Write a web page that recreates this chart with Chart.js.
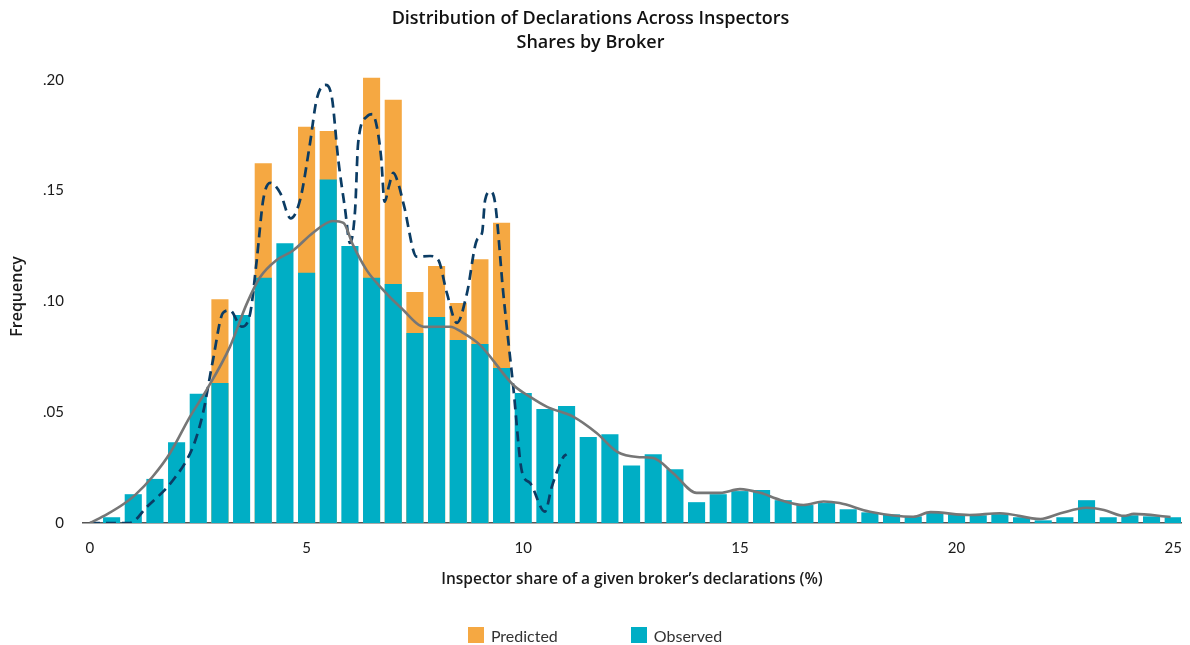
<!DOCTYPE html>
<html>
<head>
<meta charset="utf-8">
<title>Distribution of Declarations Across Inspectors</title>
<script src="https://cdn.jsdelivr.net/npm/chart.js@4.4.1/dist/chart.umd.min.js"></script>
<style>
  html, body { margin: 0; padding: 0; background: #ffffff; }
  #wrap { position: relative; width: 1190px; height: 645px; }
  #legend {
    position: absolute; left: 0; top: 625px; width: 1190px; height: 20px;
    display: flex; justify-content: center; align-items: center;
    font-family: Lato, "Open Sans", sans-serif; font-size: 16px; color: #333333;
  }
  .item { display: flex; align-items: center; }
  .item + .item { margin-left: 73px; }
  .sw { width: 16px; height: 16px; margin-right: 7px; }
</style>
</head>
<body>
<div id="wrap">
  <canvas id="chart" width="1190" height="645"></canvas>
  <div id="legend"></div>
</div>
<script>
// Histogram bins: share of a broker's declarations handled by one inspector (%)
const binCenters = [
  0.5, 1.0, 1.5, 2.0, 2.5, 3.0, 3.5, 4.0, 4.5, 5.0,
  5.5, 6.0, 6.5, 7.0, 7.5, 8.0, 8.5, 9.0, 9.5, 10.0,
  10.5, 11.0, 11.5, 12.0, 12.5, 13.0, 13.5, 14.0, 14.5, 15.0,
  15.5, 16.0, 16.5, 17.0, 17.5, 18.0, 18.5, 19.0, 19.5, 20.0,
  20.5, 21.0, 21.5, 22.0, 22.5, 23.0, 23.5, 24.0, 24.5, 25.0
];

// Observed frequency per bin
const observed = [
  0.0026, 0.0130, 0.0199, 0.0365, 0.0583, 0.0632, 0.0939, 0.1107, 0.1263, 0.1129,
  0.1550, 0.1250, 0.1107, 0.1079, 0.0857, 0.0930, 0.0826, 0.0808, 0.0700, 0.0587,
  0.0515, 0.0528, 0.0388, 0.0400, 0.0260, 0.0310, 0.0243, 0.0094, 0.0130, 0.0144,
  0.0149, 0.0103, 0.0081, 0.0090, 0.0062, 0.0048, 0.0039, 0.0030, 0.0048, 0.0040,
  0.0035, 0.0040, 0.0026, 0.0012, 0.0026, 0.0103, 0.0026, 0.0035, 0.0030, 0.0026
];

// Predicted frequency per bin (null where it sits below the observed bar)
const predicted = [
  null, null, null, null, null, 0.1010, null, 0.1624, null, 0.1788,
  0.1769, null, 0.2009, 0.1910, 0.1042, 0.1160, 0.0993, 0.1190, 0.1355, null,
  null, null, null, null, null, null, null, null, null, null,
  null, null, null, null, null, null, null, null, null, null,
  null, null, null, null, null, null, null, null, null, null
];

// Smoothed density of the predicted distribution
const predictedDensityX = [
  0, 0.5, 0.92, 1.31, 1.92, 2.38, 2.61, 2.84, 3.07, 3.23,
  3.5, 3.7, 3.85, 4.0, 4.16, 4.39, 4.63, 4.85, 5.08, 5.23,
  5.43, 5.58, 5.73, 5.89, 6.0, 6.12, 6.19, 6.39, 6.52, 6.62,
  6.72, 6.8, 6.9, 7.0, 7.12, 7.25, 7.54, 7.85, 8.04, 8.24,
  8.47, 8.7, 8.93, 9.05, 9.12, 9.24, 9.35, 9.54, 9.77, 9.97,
  10.16, 10.5, 10.66, 10.93, 11.0
];
const predictedDensityY = [
  0, 0, 0, 0.0072, 0.0194, 0.0345, 0.0497, 0.0736, 0.0948, 0.0960,
  0.0886, 0.0948, 0.1187, 0.1460, 0.1535, 0.1490, 0.1375, 0.1458, 0.1715, 0.1910,
  0.1977, 0.1925, 0.1641, 0.1414, 0.1264, 0.1414, 0.1716, 0.1834, 0.1845, 0.1790,
  0.1650, 0.1450, 0.1520, 0.1580, 0.1530, 0.1430, 0.1202, 0.1205, 0.1187, 0.1036,
  0.0903, 0.1036, 0.1277, 0.1310, 0.1458, 0.1496, 0.1445, 0.1036, 0.0614, 0.0232,
  0.0180, 0.0051, 0.0164, 0.0299, 0.0310
];

// Smoothed density of the observed distribution
const observedDensityX = [
  0, 0.4, 0.81, 1.04, 1.45, 1.85, 2.31, 2.69, 3.23, 3.62,
  3.93, 4.31, 4.69, 5.15, 5.61, 5.85, 6.07, 6.39, 6.7, 7.16,
  7.74, 8.31, 8.62, 9.0, 9.77, 10.16, 10.55, 11.15, 11.7, 12.17,
  12.63, 13.0, 13.46, 14.0, 14.55, 15.0, 15.47, 15.93, 16.47, 16.93,
  17.3, 18.0, 19.0, 19.4, 20.3, 21.0, 21.94, 22.4, 23.0, 23.4,
  23.86, 24.09, 24.94
];
const observedDensityY = [
  0, 0.0040, 0.0090, 0.0126, 0.0210, 0.0316, 0.0480, 0.0600, 0.0795, 0.0990,
  0.1110, 0.1187, 0.1230, 0.1310, 0.1363, 0.1354, 0.1255, 0.1140, 0.1066, 0.0975,
  0.0885, 0.0886, 0.0857, 0.0804, 0.0623, 0.0569, 0.0524, 0.0480, 0.0405, 0.0321,
  0.0298, 0.0293, 0.0225, 0.0136, 0.0136, 0.0153, 0.0136, 0.0104, 0.0081, 0.0097,
  0.0090, 0.0051, 0.0028, 0.0049, 0.0036, 0.0044, 0.0018, 0.0044, 0.0069, 0.0059,
  0.0032, 0.0041, 0.0027
];

// Axis ticks
const xTicks = [0, 5, 10, 15, 20, 25];
const xTickLabels = ['0', '5', '10', '15', '20', '25'];
const yTicks = [0, 0.05, 0.10, 0.15, 0.20];
const yTickLabels = ['0', '.05', '.10', '.15', '.20'];

const seriesNames = ['Predicted', 'Observed'];
const COLORS = {
  predicted: '#F5A842',
  observed: '#00AEC5',
  predictedLine: '#0B3C64',
  observedLine: '#767676',
  axis: '#555555',
  text: '#1a1a1a'
};

const FONT = 'Lato, "Open Sans", sans-serif';
const HEAD_FONT = '"Open Sans", Lato, sans-serif';

const toPoints = (xs, ys) => xs.map((x, i) => ({ x: x, y: ys[i] }));

const chart = new Chart(document.getElementById('chart'), {
  type: 'bar',
  data: {
    datasets: [
      {
        label: seriesNames[0],
        data: toPoints(binCenters, predicted),
        backgroundColor: COLORS.predicted,
        borderWidth: 0,
        grouped: false,
        categoryPercentage: 1,
        barPercentage: 0.79,
        order: 3
      },
      {
        label: seriesNames[1],
        data: toPoints(binCenters, observed),
        backgroundColor: COLORS.observed,
        borderWidth: 0,
        grouped: false,
        categoryPercentage: 1,
        barPercentage: 0.79,
        order: 2
      },
      {
        type: 'line',
        label: 'Predicted density',
        data: toPoints(predictedDensityX, predictedDensityY),
        borderColor: COLORS.predictedLine,
        borderWidth: 2.7,
        borderDash: [10, 6],
        pointRadius: 0,
        fill: false,
        cubicInterpolationMode: 'monotone',
        order: 1
      },
      {
        type: 'line',
        label: 'Observed density',
        data: toPoints(observedDensityX, observedDensityY),
        borderColor: COLORS.observedLine,
        borderWidth: 2.6,
        pointRadius: 0,
        fill: false,
        cubicInterpolationMode: 'monotone',
        order: 0
      }
    ]
  },
  options: {
    responsive: false,
    animation: false,
    layout: { padding: { left: 0, right: 9, top: 0, bottom: 52 } },
    plugins: {
      legend: { display: false },
      tooltip: { enabled: false },
      title: {
        display: true,
        text: ['Distribution of Declarations Across Inspectors', 'Shares by Broker'],
        color: '#111111',
        font: { family: HEAD_FONT, size: 18, weight: '600', lineHeight: 1.33 },
        padding: { top: 7, bottom: 15 }
      }
    },
    scales: {
      x: {
        type: 'linear',
        min: -0.16,
        max: 25.18,
        offset: false,
        grid: { display: false, drawTicks: false },
        border: { display: true, color: COLORS.axis, width: 1.5 },
        afterBuildTicks: (scale) => { scale.ticks = xTicks.map(v => ({ value: v })); },
        afterFit: (scale) => {
          scale.height = 70;
          scale.paddingLeft = 0;
          scale.paddingRight = 0;
        },
        ticks: {
          color: COLORS.text,
          padding: 16,
          maxRotation: 0,
          autoSkip: false,
          font: { family: FONT, size: 15 },
          callback: (v) => xTickLabels[xTicks.indexOf(v)]
        },
        title: {
          display: true,
          text: 'Inspector share of a given broker\u2019s declarations (%)',
          color: COLORS.text,
          font: { family: HEAD_FONT, size: 15.5, weight: '600' },
          padding: { top: 0, bottom: 4 }
        }
      },
      y: {
        type: 'linear',
        min: 0,
        max: 0.2045,
        grid: { display: false, drawTicks: false },
        border: { display: false },
        afterBuildTicks: (scale) => { scale.ticks = yTicks.map(v => ({ value: v })); },
        afterFit: (scale) => { scale.width = 83; },
        ticks: {
          color: COLORS.text,
          padding: 19,
          font: { family: FONT, size: 15 },
          callback: (v) => {
            const i = yTicks.findIndex(t => Math.abs(t - v) < 1e-9);
            return i >= 0 ? yTickLabels[i] : '';
          }
        },
        title: {
          display: true,
          text: 'Frequency',
          color: COLORS.text,
          font: { family: HEAD_FONT, size: 16, weight: '600' },
          padding: { top: 8, bottom: 0 }
        }
      }
    }
  }
});

// Legend for the two histogram series
const legendEl = document.getElementById('legend');
[0, 1].forEach((i) => {
  const ds = chart.data.datasets[i];
  const item = document.createElement('div');
  item.className = 'item';
  const sw = document.createElement('span');
  sw.className = 'sw';
  sw.style.background = ds.backgroundColor;
  const label = document.createElement('span');
  label.textContent = ds.label;
  item.appendChild(sw);
  item.appendChild(label);
  legendEl.appendChild(item);
});
</script>
</body>
</html>
